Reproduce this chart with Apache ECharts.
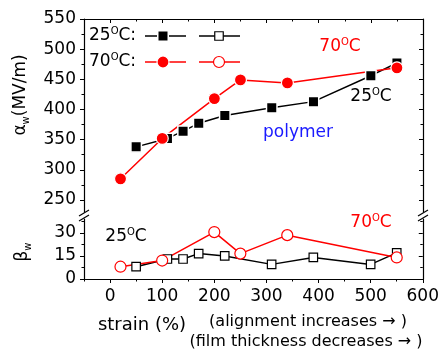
<!DOCTYPE html>
<html>
<head>
<meta charset="utf-8">
<script src="https://cdn.jsdelivr.net/npm/echarts@6/dist/echarts.min.js"></script>
<style>
  html, body { margin: 0; padding: 0; background: #fff; }
  #chart { width: 442px; height: 350px; }
</style>
</head>
<body>
<div id="chart"></div>
<script>
// data
const strain25 = [50, 110, 140, 170, 220, 310, 390, 500, 550]
const alpha25 = [338, 352, 364, 377, 390, 403, 413, 456, 477]
const beta25 = [8, 13, 13, 16.5, 15, 9.5, 14, 9.5, 17]
const strain70 = [20, 100, 200, 250, 340, 550]
const alpha70 = [285, 352, 418, 449, 444, 469]
const beta70 = [8, 12, 30.5, 16.5, 28.5, 14]

const xMajor = [0, 100, 200, 300, 400, 500, 600]
const xMinor = [-50, 50, 150, 250, 350, 450, 550]
const alphaMajor = [250, 300, 350, 400, 450, 500, 550]
const alphaMinor = [275, 325, 375, 425, 475, 525]
const betaMajor = [0, 15, 30]
const betaMinor = [7.5, 22.5, 37.5]

const FONT = 'DejaVu Sans'
const RED = '#ff0000'

const chart = echarts.init(document.getElementById('chart'))

const zip = (xs, ys) => xs.map((x, i) => [x, ys[i]])

// one axis = line + ticks at given values (+ optional labels)
function axis(gridIndex, position, min, max, ticks, opt) {
  opt = opt || {}
  return {
    type: 'value',
    gridIndex: gridIndex,
    position: position,
    min: min,
    max: max,
    axisLine: { show: opt.line !== false, onZero: false, lineStyle: { color: '#000', width: 1.2 } },
    axisTick: {
      show: true,
      inside: !!opt.inside,
      length: opt.len || 4,
      customValues: ticks,
      lineStyle: { color: '#000', width: 1 }
    },
    axisLabel: opt.labels ? {
      show: true,
      customValues: ticks,
      margin: opt.margin || 8,
      fontFamily: FONT,
      fontSize: 17,
      color: '#000'
    } : { show: false },
    splitLine: { show: false }
  }
}

const option = {
  animation: false,
  backgroundColor: '#fff',
  grid: [
    { left: 84, right: 19, top: 19, height: 193 },
    { left: 84, right: 19, top: 219, height: 60 }
  ],
  xAxis: [
    axis(0, 'top', -50, 600, xMajor, { inside: true, len: 4 }),
    axis(0, 'top', -50, 600, xMinor, { inside: true, len: 2.5, line: false }),
    axis(1, 'bottom', -50, 600, xMajor, { len: 4, labels: true, margin: 9 }),
    axis(1, 'bottom', -50, 600, xMinor, { len: 2.5, line: false })
  ],
  yAxis: [
    axis(0, 'left', 230, 550, alphaMajor, { len: 4, labels: true }),
    axis(0, 'left', 230, 550, alphaMinor, { len: 2.5, line: false }),
    axis(0, 'right', 230, 550, alphaMajor, { inside: true, len: 4 }),
    axis(0, 'right', 230, 550, alphaMinor, { inside: true, len: 2.5, line: false }),
    axis(1, 'left', 0, 39, betaMajor, { len: 4, labels: true }),
    axis(1, 'left', 0, 39, betaMinor, { len: 2.5, line: false }),
    axis(1, 'right', 0, 39, betaMajor, { inside: true, len: 4 }),
    axis(1, 'right', 0, 39, betaMinor, { inside: true, len: 2.5, line: false })
  ],
  series: [
    {
      name: 'alpha 25', type: 'line', xAxisIndex: 0, yAxisIndex: 0,
      data: zip(strain25, alpha25),
      symbol: 'rect', symbolSize: 10.5,
      itemStyle: { color: '#000', borderColor: '#fff', borderWidth: 1.5 },
      lineStyle: { color: '#000', width: 1.5 }
    },
    {
      name: 'alpha 70', type: 'line', xAxisIndex: 0, yAxisIndex: 0,
      data: zip(strain70, alpha70),
      symbol: 'circle', symbolSize: 12,
      itemStyle: { color: RED, borderColor: '#fff', borderWidth: 1.2 },
      lineStyle: { color: RED, width: 1.5 }
    },
    {
      name: 'beta 25', type: 'line', xAxisIndex: 2, yAxisIndex: 4,
      data: zip(strain25, beta25),
      symbol: 'rect', symbolSize: 8.5,
      itemStyle: { color: '#fff', borderColor: '#000', borderWidth: 1.2 },
      lineStyle: { color: '#000', width: 1.5 }
    },
    {
      name: 'beta 70', type: 'line', xAxisIndex: 2, yAxisIndex: 4,
      data: zip(strain70, beta70),
      symbol: 'circle', symbolSize: 11,
      itemStyle: { color: '#fff', borderColor: RED, borderWidth: 1.2 },
      lineStyle: { color: RED, width: 1.5 }
    }
  ]
}

chart.setOption(option)

// text with a superscript "O" for degrees
function degText(x, y, num, color, align) {
  return {
    type: 'text', x: x, y: y, z: 10,
    style: {
      text: '{n|' + num + '}{s|O}{n|C}',
      align: align || 'center', verticalAlign: 'middle',
      rich: {
        n: { fontFamily: FONT, fontSize: 17, fill: color, lineHeight: 20 },
        s: { fontFamily: FONT, fontSize: 10, fill: color, verticalAlign: 'top', lineHeight: 20 }
      }
    }
  }
}

function legendRow(y, num, color, filled, sym) {
  const items = []
  items.push({
    type: 'text', x: 89, y: y, z: 10,
    style: {
      text: '{n|' + num + '}{s|O}{n|C:}', verticalAlign: 'middle',
      rich: {
        n: { fontFamily: FONT, fontSize: 17, fill: '#000', lineHeight: 20 },
        s: { fontFamily: FONT, fontSize: 10, fill: '#000', verticalAlign: 'top', lineHeight: 20 }
      }
    }
  })
  const segs = [[145, 186, 163, true], [199, 240, 219, false]]
  segs.forEach(s => {
    items.push({ type: 'line', z: 10, shape: { x1: s[0], y1: y, x2: s[1], y2: y }, style: { stroke: color, lineWidth: 1.5 } })
    const fill = s[3] ? color : '#fff'
    if (sym === 'rect') {
      const w = s[3] ? 10.5 : 8.5
      items.push({ type: 'rect', z: 11, shape: { x: s[2] - w / 2, y: y - w / 2, width: w, height: w },
        style: { fill: fill, stroke: s[3] ? '#fff' : color, lineWidth: s[3] ? 1.5 : 1.2 } })
    } else {
      items.push({ type: 'circle', z: 11, shape: { cx: s[2], cy: y, r: s[3] ? 6 : 5.5 },
        style: { fill: fill, stroke: s[3] ? '#fff' : color, lineWidth: 1.2 } })
    }
  })
  return items
}

function breakMarks(x) {
  return [
    { type: 'line', z: 10, shape: { x1: x - 5, y1: 216, x2: x + 5, y2: 210 }, style: { stroke: '#000', lineWidth: 1.2 } },
    { type: 'line', z: 10, shape: { x1: x - 5, y1: 221, x2: x + 5, y2: 215 }, style: { stroke: '#000', lineWidth: 1.2 } }
  ]
}

const graphics = [].concat(
  legendRow(36, '25', '#000', true, 'rect'),
  legendRow(62, '70', RED, true, 'circle'),
  [
    degText(340, 47, '70', RED),
    degText(371, 97, '25', '#000'),
    { type: 'text', x: 298, y: 133, z: 10,
      style: { text: 'polymer', fontFamily: FONT, fontSize: 17, fill: '#1a1aff', align: 'center', verticalAlign: 'middle' } },
    degText(126, 237, '25', '#000'),
    degText(371, 223, '70', RED),
    { type: 'text', x: 21, y: 95, rotation: Math.PI / 2, z: 10,
      style: {
        text: '{a|α}{b|w}{a|(MV/m)}', align: 'center', verticalAlign: 'middle',
        rich: {
          a: { fontFamily: FONT, fontSize: 17, fill: '#000', lineHeight: 20 },
          b: { fontFamily: FONT, fontSize: 10, fill: '#000', verticalAlign: 'bottom', lineHeight: 20 }
        }
      } },
    { type: 'text', x: 23, y: 252, rotation: Math.PI / 2, z: 10,
      style: {
        text: '{a|β}{b|w}', align: 'center', verticalAlign: 'middle',
        rich: {
          a: { fontFamily: FONT, fontSize: 17, fill: '#000', lineHeight: 20 },
          b: { fontFamily: FONT, fontSize: 10, fill: '#000', verticalAlign: 'bottom', lineHeight: 20 }
        }
      } },
    { type: 'text', x: 142, y: 325, z: 10,
      style: { text: 'strain (%)', fontFamily: FONT, fontSize: 18, fill: '#000', align: 'center', verticalAlign: 'middle' } },
    { type: 'text', x: 308, y: 322, z: 10,
      style: { text: '(alignment increases \u2192 )', fontFamily: FONT, fontSize: 16, fill: '#000', align: 'center', verticalAlign: 'middle' } },
    { type: 'text', x: 306, y: 342, z: 10,
      style: { text: '(film thickness decreases \u2192 )', fontFamily: FONT, fontSize: 16, fill: '#000', align: 'center', verticalAlign: 'middle' } }
  ],
  breakMarks(84),
  breakMarks(423)
)

chart.setOption({ graphic: graphics })

window.addEventListener('resize', () => chart.resize())
</script>
</body>
</html>
